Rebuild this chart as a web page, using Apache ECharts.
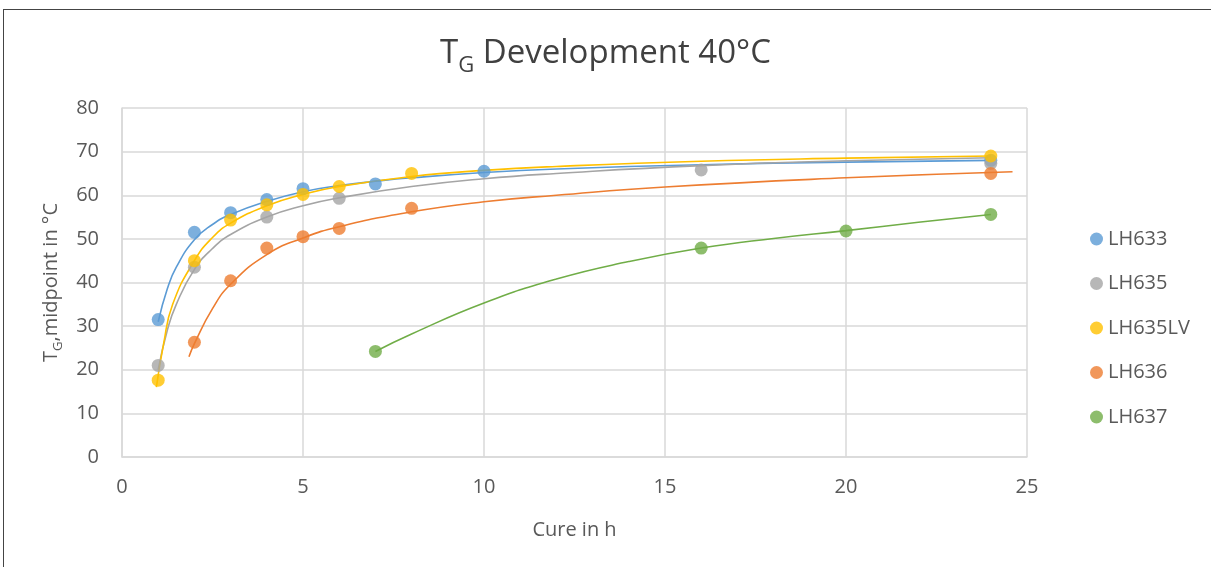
<!DOCTYPE html>
<html>
<head>
<meta charset="utf-8">
<script src="https://cdn.jsdelivr.net/npm/echarts@6/dist/echarts.min.js"></script>
<style>
html,body{margin:0;padding:0;background:#fff;}
#frame{position:absolute;left:3px;top:9px;width:1220px;height:570px;border:1.5px solid #444;box-sizing:border-box;}
#chart{position:absolute;left:0;top:0;width:1211px;height:567px;}
</style>
</head>
<body>
<div id="frame"></div>
<div id="chart"></div>
<script>
// Measured data points [cure h, Tg °C]
const LH633 = [[1,31.5],[2,51.5],[3,56],[4,59],[5,61.5],[7,62.6],[10,65.5],[24,68]];
const LH635 = [[1,21],[2,43.5],[4,55],[6,59.3],[16,65.8],[24,67.3]];
const LH635LV = [[1,17.6],[2,45],[3,54.3],[4,57.8],[5,60.2],[6,62],[8,65],[24,69]];
const LH636 = [[2,26.3],[3,40.4],[4,47.9],[5,50.5],[6,52.4],[8,57],[24,65]];
const LH637 = [[7,24.2],[16,47.9],[20,51.8],[24,55.6]];

// Trendline values
const LH633_trend = [[1,31],[1.25,38.5],[1.5,43.5],[2,49.8],[2.5,53.3],[3,55.6],[4,58.6],[5,60.8],[6,62.2],[7,63.2],[8,64],[10,65.2],[12,66],[16,67],[20,67.6],[24,68]];
const LH635_trend = [[1,20],[1.25,29],[1.5,35],[2,43],[2.5,47.8],[3,51],[4,55],[5,57.6],[6,59.4],[8,62],[10,63.8],[12,65],[16,66.8],[20,67.9],[24,68.6]];
const LH635LV_trend = [[0.95,16],[1.15,26],[1.4,35],[2,45],[2.5,50.3],[3,53.6],[4,57.6],[5,60.2],[6,62],[8,64.3],[10,65.7],[12,66.6],[16,67.8],[20,68.5],[24,69]];
const LH636_trend = [[1.85,23],[2,26],[2.5,34],[3,39.6],[4,46.4],[5,50.2],[6,52.8],[8,56.2],[10,58.5],[12,60],[15,61.9],[20,64],[24.6,65.4]];
const LH637_trend = [[7,24.2],[8,28.2],[10,35.3],[12,40.8],[14,44.8],[16,47.9],[18,50.1],[20,51.9],[22,53.8],[24,55.6]];

const names = ['LH633','LH635','LH635LV','LH636','LH637'];
const colors = ['#5B9BD5','#A5A5A5','#FFC000','#ED7D31','#70AD47'];
const points = [LH633, LH635, LH635LV, LH636, LH637];
const trends = [LH633_trend, LH635_trend, LH635LV_trend, LH636_trend, LH637_trend];

const xTicks = [0,5,10,15,20,25];
const yTicks = [0,10,20,30,40,50,60,70,80];

const FONT = '"Open Sans", sans-serif';
const series = [];
names.forEach((n,i)=>{
  series.push({
    name: n + ' trend', type:'line', data: trends[i], smooth: true, showSymbol:false, symbol:'none',
    lineStyle:{color:colors[i], width:1.6}, z:2, silent:true
  });
});
names.forEach((n,i)=>{
  series.push({
    name: n, type:'scatter', data: points[i], symbol:'circle', symbolSize:13,
    itemStyle:{color:colors[i]}, z:3
  });
});

const chart = echarts.init(document.getElementById('chart'), null, {renderer:'canvas'});
chart.setOption({
  animation:false,
  backgroundColor:'transparent',
  title:{
    text:'{a|T}{b|G}{a| Development 40°C}',
    left:'center', top:26,
    textStyle:{
      rich:{
        a:{fontFamily:FONT, fontSize:33, fontWeight:'normal', color:'#404040'},
        b:{fontFamily:FONT, fontSize:22, fontWeight:'normal', color:'#404040', verticalAlign:'bottom', padding:[24,0,0,0]}
      }
    }
  },
  legend:{
    data: names, orient:'vertical', left:1085, top:224,
    icon:'circle', itemWidth:13, itemHeight:13, itemGap:24.5,
    textStyle:{fontFamily:FONT, fontSize:20, color:'#595959'}
  },
  grid:{left:122, right:184, top:108, bottom:110},
  xAxis:{
    type:'value', min:0, max:25, interval:5,
    name:'Cure in h', nameLocation:'middle', nameGap:63,
    nameTextStyle:{fontFamily:FONT, fontSize:20, color:'#595959'},
    axisLine:{show:true, lineStyle:{color:'#d9d9d9', width:1.5}},
    axisTick:{show:false},
    splitLine:{show:true, lineStyle:{color:'#d9d9d9', width:1.5}},
    axisLabel:{fontFamily:FONT, fontSize:20, color:'#595959', margin:20,
      formatter:v=> xTicks.includes(v)? String(v):''}
  },
  yAxis:{
    type:'value', min:0, max:80, interval:10,
    name:'{t|T}{s|G}{t|,midpoint in °C}', nameLocation:'middle', nameGap:56, nameRotate:90,
    nameTextStyle:{rich:{
      t:{fontFamily:FONT, fontSize:20, color:'#595959'},
      s:{fontFamily:FONT, fontSize:13, color:'#595959', verticalAlign:'bottom', padding:[14,0,0,0]}
    }},
    axisLine:{show:true, lineStyle:{color:'#d9d9d9', width:1.5}},
    axisTick:{show:false},
    splitLine:{show:true, lineStyle:{color:'#d9d9d9', width:1.5}},
    axisLabel:{fontFamily:FONT, fontSize:20, color:'#595959', margin:23,
      formatter:v=> yTicks.includes(v)? String(v):''}
  },
  series: series
});
</script>
</body>
</html>
